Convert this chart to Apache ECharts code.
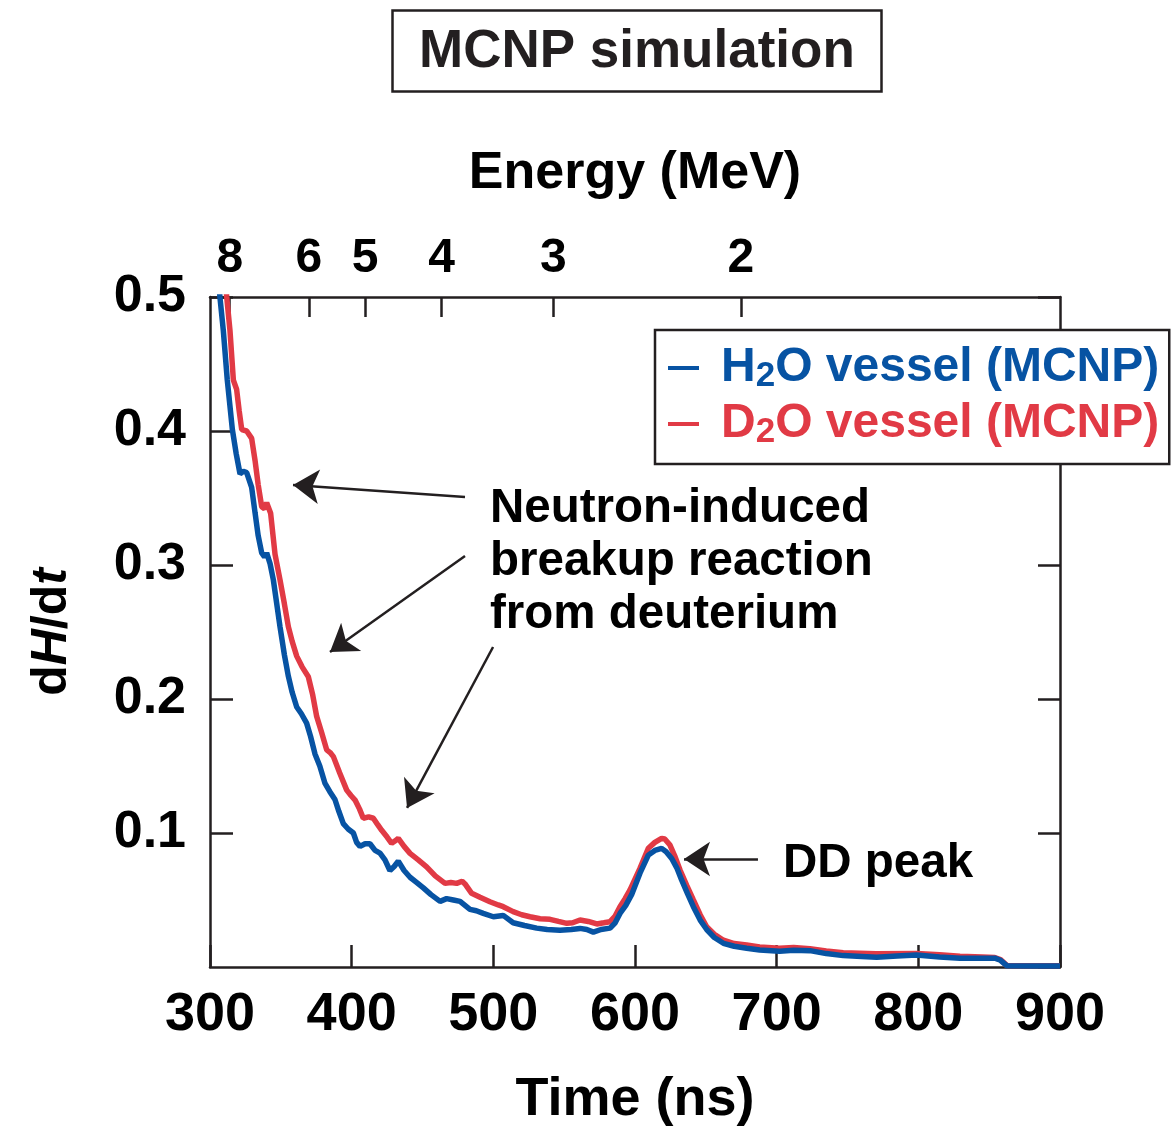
<!DOCTYPE html>
<html>
<head>
<meta charset="utf-8">
<script src="https://cdn.jsdelivr.net/npm/echarts@6/dist/echarts.min.js"></script>
<style>
  html, body { margin: 0; padding: 0; background: #fff; }
  #chart { width: 1174px; height: 1128px; }
</style>
</head>
<body>
<div id="chart"></div>
<script>
// Time axis (ns)
const timeTicks = [300, 400, 500, 600, 700, 800, 900];
// Energy axis ticks (MeV), placed on the time scale by neutron time of flight
const energyTicks = [8, 6, 5, 4, 3, 2];
const FLIGHT_K = 1020.6;   // ns * sqrt(MeV)
const T_OFFSET = -46.9;    // ns
const doseTicks = [0.1, 0.2, 0.3, 0.4, 0.5];

// H2O vessel (MCNP)
const h2oTime = [304, 307, 309.4, 312.2, 315.8, 318.5, 321.2, 323.5, 325.9, 329.4, 331.8, 334.0, 336.5, 338.5, 340.0, 342.4, 344.7, 349.4, 352.5, 355.3, 358.0, 361.2, 364.5, 368.2, 371.0, 374.1, 377.5, 381.2, 384.5, 388.2, 391.0, 394.1, 397.5, 401.2, 403.5, 405.9, 409.5, 412.9, 416.5, 420.0, 423.5, 427.0, 430.0, 432.9, 437.0, 441.2, 446.0, 450.6, 456.0, 462.4, 467.0, 471.8, 476.5, 483.5, 488.0, 492.9, 500, 507, 514, 522, 530.6, 538, 547, 555, 561.2, 566, 570.6, 576, 582.4, 586, 589.4, 593.5, 597.6, 603.5, 609.4, 614, 618.8, 622, 625.9, 629.5, 632.9, 637, 641.2, 646, 650.6, 656, 662.4, 670, 678.8, 688, 702, 712, 723.5, 735, 747, 760, 770.6, 785, 798.8, 815, 829.4, 845, 854, 858, 862.4, 880, 900];
const h2oDose = [0.545, 0.500, 0.475, 0.438, 0.401, 0.383, 0.368, 0.370, 0.369, 0.358, 0.339, 0.322, 0.309, 0.306, 0.309, 0.301, 0.289, 0.254, 0.233, 0.217, 0.205, 0.194, 0.189, 0.182, 0.172, 0.159, 0.150, 0.137, 0.131, 0.125, 0.116, 0.107, 0.103, 0.100, 0.093, 0.090, 0.092, 0.092, 0.087, 0.085, 0.080, 0.072, 0.075, 0.079, 0.072, 0.067, 0.063, 0.059, 0.054, 0.049, 0.051, 0.050, 0.049, 0.043, 0.042, 0.040, 0.0375, 0.0385, 0.033, 0.031, 0.029, 0.028, 0.0275, 0.028, 0.0288, 0.028, 0.026, 0.028, 0.029, 0.033, 0.040, 0.046, 0.054, 0.070, 0.0835, 0.087, 0.0885, 0.086, 0.081, 0.074, 0.065, 0.055, 0.045, 0.035, 0.028, 0.022, 0.0177, 0.0155, 0.014, 0.0127, 0.0117, 0.0125, 0.0122, 0.010, 0.0085, 0.0078, 0.0072, 0.0082, 0.009, 0.0075, 0.0066, 0.0066, 0.0066, 0.005, 0.001, 0.0008, 0.0008];

// D2O vessel (MCNP)
const d2oTime = [308.5, 311.8, 314.1, 316.5, 318.8, 320.6, 322.4, 325.9, 329.4, 331.8, 334.0, 336.5, 338.5, 340, 342.8, 345.9, 349.4, 352.5, 355.3, 358.0, 361.2, 365, 369.4, 372.5, 375.3, 378.8, 382.4, 384.8, 387.1, 391.5, 396.5, 399.5, 402.4, 405.5, 408.2, 412, 415.3, 418.5, 421.2, 425, 428.2, 430.5, 432.9, 437, 441.2, 447, 452.9, 459, 465.9, 470, 474.1, 478, 480, 484.7, 490.6, 497.6, 503.5, 507, 514, 520, 525.9, 533, 540, 546, 551.8, 556, 561.2, 567, 573, 578, 582.4, 586, 589.4, 593, 596.5, 603.5, 609.4, 614, 618.8, 621, 624.7, 628, 631.8, 636.5, 641.2, 646, 650.6, 656, 662.4, 670, 678.8, 688, 702, 712, 723.5, 735, 747, 770, 798.8, 815, 829.4, 845, 854, 858, 862.4, 880, 900];
const d2oDose = [0.545, 0.500, 0.475, 0.438, 0.431, 0.415, 0.401, 0.400, 0.3945, 0.378, 0.360, 0.3435, 0.342, 0.3465, 0.3386, 0.308, 0.289, 0.271, 0.254, 0.243, 0.232, 0.224, 0.2166, 0.203, 0.187, 0.175, 0.162, 0.160, 0.157, 0.145, 0.132, 0.128, 0.1246, 0.118, 0.111, 0.112, 0.111, 0.106, 0.102, 0.097, 0.0923, 0.094, 0.096, 0.090, 0.0848, 0.080, 0.0748, 0.068, 0.0624, 0.063, 0.0624, 0.064, 0.062, 0.055, 0.052, 0.0487, 0.0463, 0.045, 0.0413, 0.039, 0.0375, 0.036, 0.0356, 0.034, 0.0326, 0.033, 0.0351, 0.034, 0.0321, 0.033, 0.0338, 0.038, 0.045, 0.051, 0.0575, 0.0736, 0.0886, 0.093, 0.096, 0.0955, 0.091, 0.083, 0.0724, 0.061, 0.050, 0.039, 0.030, 0.0245, 0.020, 0.0175, 0.0164, 0.015, 0.014, 0.0145, 0.0137, 0.012, 0.0107, 0.0098, 0.010, 0.0092, 0.008, 0.0075, 0.007, 0.0055, 0.0012, 0.001, 0.001];

// Annotation arrows: [tail time, tail dose, head time, head dose]
const arrows = [
  [480.0, 0.3507, 358.6, 0.3597],
  [480.0, 0.3067, 384.7, 0.2351],
  [499.8, 0.2388, 439.1, 0.1187],
  [686.8, 0.0806, 634.6, 0.0806]
];

const BLUE = '#0753a3';
const RED = '#e13a45';
const INK = '#231f20';
const FONT = '"Liberation Sans", Arial, Helvetica, sans-serif';

const toTime = e => FLIGHT_K / Math.sqrt(e) + T_OFFSET;
const toEnergy = t => Math.round(Math.pow(FLIGHT_K / (t - T_OFFSET), 2));
const pairs = (xs, ys) => xs.map((x, i) => [x, ys[i]]);

const chart = echarts.init(document.getElementById('chart'), null, { renderer: 'canvas' });

const legendRich = {
  hm: { color: BLUE, fontSize: 48, fontWeight: 'bold', fontFamily: FONT, lineHeight: 52 },
  hs: { color: BLUE, fontSize: 35, fontWeight: 'bold', fontFamily: FONT, lineHeight: 16, verticalAlign: 'bottom' },
  dm: { color: RED, fontSize: 48, fontWeight: 'bold', fontFamily: FONT, lineHeight: 52 },
  ds: { color: RED, fontSize: 35, fontWeight: 'bold', fontFamily: FONT, lineHeight: 16, verticalAlign: 'bottom' }
};

const frameLine = { show: true, onZero: false, lineStyle: { color: INK, width: 2.5 } };

chart.setOption({
  animation: false,
  title: {
    text: 'MCNP simulation',
    left: 392,
    top: 10,
    padding: [12, 27, 10, 27],
    borderColor: INK,
    borderWidth: 2.5,
    textStyle: { color: INK, fontSize: 53, fontWeight: 'bold', fontFamily: FONT, lineHeight: 60 }
  },
  legend: {
    data: [
      { name: 'H2O vessel (MCNP)' },
      { name: 'D2O vessel (MCNP)' }
    ],
    orient: 'vertical',
    left: 655,
    top: 330,
    padding: [14, 10, 14, 13],
    itemGap: 6,
    itemWidth: 31,
    itemHeight: 4,
    icon: 'rect',
    backgroundColor: '#fff',
    borderColor: INK,
    borderWidth: 2.5,
    z: 10,
    textStyle: { padding: [0, 0, 0, 17], rich: legendRich },
    formatter: name => {
      const k = name.charAt(0) === 'H' ? 'h' : 'd';
      const parts = name.split('2');
      return '{' + k + 'm|' + parts[0] + '}{' + k + 's|2}{' + k + 'm|' + parts[1] + '}';
    }
  },
  grid: { left: 210, right: 114, top: 297, bottom: 161, containLabel: false, outerBoundsMode: 'none' },
  xAxis: [
    {
      type: 'value',
      position: 'bottom',
      min: 300, max: 900, interval: 100,
      name: 'Time (ns)',
      nameLocation: 'middle',
      nameGap: 106,
      nameTextStyle: { color: '#000', fontSize: 54, fontWeight: 'bold', fontFamily: FONT },
      axisLine: frameLine,
      axisTick: { show: true, inside: true, length: 22, lineStyle: { color: INK, width: 2.5 } },
      axisLabel: {
        margin: 21, color: '#000', fontSize: 54, fontWeight: 'bold', fontFamily: FONT,
        customValues: timeTicks
      },
      splitLine: { show: false }
    },
    {
      type: 'value',
      position: 'top',
      min: 300, max: 900,
      name: 'Energy (MeV)',
      nameLocation: 'middle',
      nameGap: 97,
      nameTextStyle: { color: '#000', fontSize: 52, fontWeight: 'bold', fontFamily: FONT },
      axisLine: frameLine,
      axisTick: { show: true, inside: true, length: 20, lineStyle: { color: INK, width: 2.5 }, customValues: energyTicks.map(toTime) },
      axisLabel: {
        margin: 14, color: '#000', fontSize: 48, fontWeight: 'bold', fontFamily: FONT,
        customValues: energyTicks.map(toTime),
        formatter: v => String(toEnergy(v))
      },
      splitLine: { show: false }
    }
  ],
  yAxis: [
    {
      type: 'value',
      position: 'left',
      min: 0, max: 0.5, interval: 0.1,
      name: '{b|d}{i|H}{b|/d}{i|t}',
      nameLocation: 'middle',
      nameRotate: 90,
      nameGap: 133,
      nameTextStyle: {
        rich: {
          b: { color: '#000', fontSize: 50, fontWeight: 'bold', fontFamily: FONT },
          i: { color: '#000', fontSize: 50, fontWeight: 'bold', fontStyle: 'italic', fontFamily: FONT }
        }
      },
      axisLine: frameLine,
      axisTick: { show: true, inside: true, length: 23, lineStyle: { color: INK, width: 2.5 }, customValues: doseTicks },
      axisLabel: {
        margin: 24, color: '#000', fontSize: 52, fontWeight: 'bold', fontFamily: FONT,
        customValues: doseTicks,
        formatter: v => v.toFixed(1)
      },
      splitLine: { show: false }
    },
    {
      type: 'value',
      position: 'right',
      min: 0, max: 0.5, interval: 0.1,
      axisLine: frameLine,
      axisTick: { show: true, inside: true, length: 22, lineStyle: { color: INK, width: 2.5 } },
      axisLabel: { show: false },
      splitLine: { show: false }
    }
  ],
  series: [
    {
      name: 'D2O vessel (MCNP)',
      type: 'line',
      xAxisIndex: 0, yAxisIndex: 0,
      data: pairs(d2oTime, d2oDose),
      showSymbol: false,
      clip: true,
      color: RED,
      lineStyle: { color: RED, width: 5.5 },
      z: 2
    },
    {
      name: 'H2O vessel (MCNP)',
      type: 'line',
      xAxisIndex: 0, yAxisIndex: 0,
      data: pairs(h2oTime, h2oDose),
      showSymbol: false,
      clip: true,
      color: BLUE,
      lineStyle: { color: BLUE, width: 5.5 },
      z: 3
    },
    {
      name: 'annotations',
      type: 'line',
      xAxisIndex: 0, yAxisIndex: 0,
      data: [],
      silent: true,
      markLine: {
        silent: true,
        symbol: ['none', 'arrow'],
        symbolSize: 26,
        label: { show: false },
        lineStyle: { color: INK, width: 2.5, type: 'solid' },
        itemStyle: { color: INK },
        emphasis: { disabled: true },
        data: arrows.map(a => [{ coord: [a[0], a[1]] }, { coord: [a[2], a[3]] }])
      }
    }
  ],
  graphic: [
    {
      type: 'text',
      left: 490,
      top: 482,
      style: {
        text: 'Neutron-induced\nbreakup reaction\nfrom deuterium',
        font: 'bold 47.5px ' + FONT,
        lineHeight: 53,
        fill: '#000'
      }
    },
    {
      type: 'text',
      left: 783,
      top: 837,
      style: {
        text: 'DD peak',
        font: 'bold 47.5px ' + FONT,
        lineHeight: 53,
        fill: '#000'
      }
    }
  ]
});
</script>
</body>
</html>
